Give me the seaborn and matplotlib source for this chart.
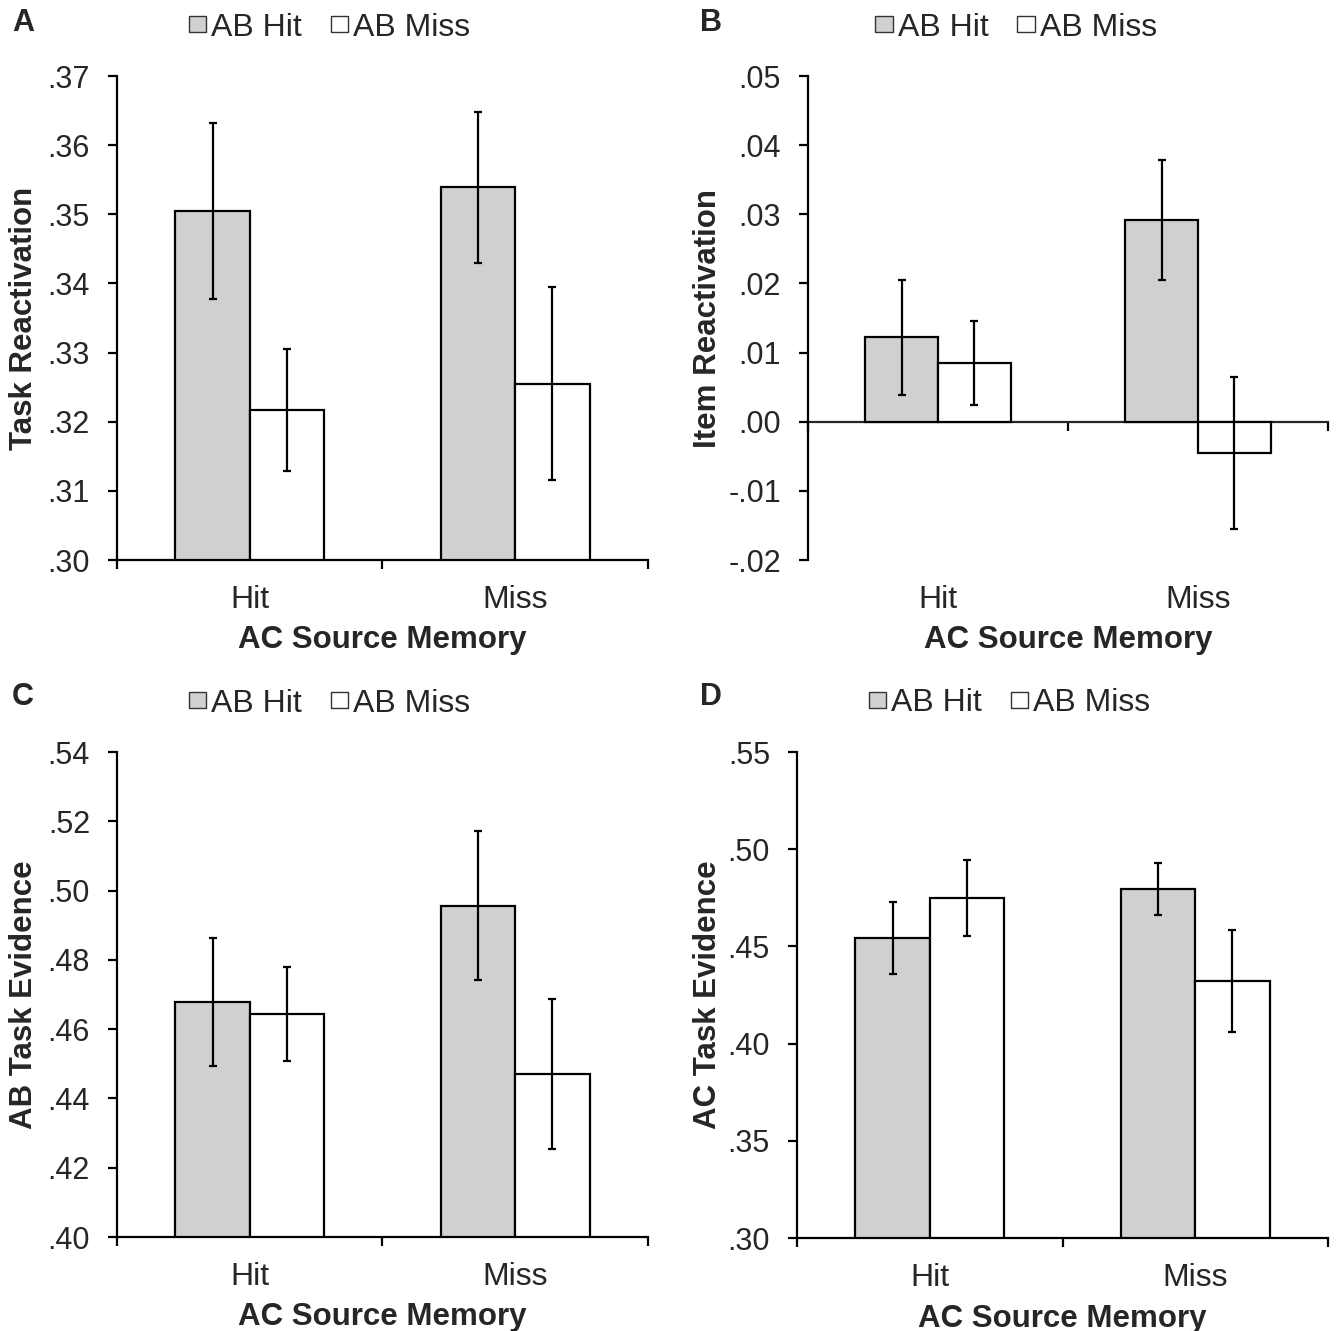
import numpy as np
import pandas as pd
import matplotlib.pyplot as plt
import seaborn as sns

# categories
memory = ['Hit', 'Miss']
ab_levels = ['AB Hit', 'AB Miss']

# panel A - task reactivation
task_ab_hit = [0.3505, 0.3539]
task_ab_miss = [0.3217, 0.3255]
task_err_hit = [0.0127, 0.0109]
task_err_miss = [0.0088, 0.0140]

# panel B - item reactivation
item_ab_hit = [0.0122, 0.0292]
item_ab_miss = [0.0085, -0.0045]
item_err_hit = [0.0083, 0.0087]
item_err_miss = [0.0061, 0.0110]

# panel C - AB task evidence
abev_ab_hit = [0.4678, 0.4956]
abev_ab_miss = [0.4644, 0.4470]
abev_err_hit = [0.0185, 0.0215]
abev_err_miss = [0.0135, 0.0217]

# panel D - AC task evidence
acev_ab_hit = [0.4543, 0.4795]
acev_ab_miss = [0.4749, 0.4322]
acev_err_hit = [0.0183, 0.0134]
acev_err_miss = [0.0195, 0.0260]

sns.set_style('ticks')
plt.rcParams['font.family'] = ['Liberation Sans', 'DejaVu Sans']

fig = plt.figure(figsize=(13.38, 13.31), dpi=100)

panels = [
    dict(letter='A', ylabel='Task Reactivation', hit=task_ab_hit, miss=task_ab_miss,
         eh=task_err_hit, em=task_err_miss, ylim=(0.30, 0.37), step=0.01,
         rect=[117, 76, 648, 560], letter_xy=(23, 23), ylab_x=39),
    dict(letter='B', ylabel='Item Reactivation', hit=item_ab_hit, miss=item_ab_miss,
         eh=item_err_hit, em=item_err_miss, ylim=(-0.02, 0.05), step=0.01,
         rect=[808, 76, 1328, 560], letter_xy=(711, 23), ylab_x=723),
    dict(letter='C', ylabel='AB Task Evidence', hit=abev_ab_hit, miss=abev_ab_miss,
         eh=abev_err_hit, em=abev_err_miss, ylim=(0.40, 0.54), step=0.02,
         rect=[117, 752, 648, 1237], letter_xy=(23, 697), ylab_x=39),
    dict(letter='D', ylabel='AC Task Evidence', hit=acev_ab_hit, miss=acev_ab_miss,
         eh=acev_err_hit, em=acev_err_miss, ylim=(0.30, 0.55), step=0.05,
         rect=[797, 752, 1328, 1238], letter_xy=(711, 697), ylab_x=723),
]

W, H = 1338, 1331

for p in panels:
    x0, y0, x1, y1 = p['rect']
    ax = fig.add_axes([x0 / W, 1 - y1 / H, (x1 - x0) / W, (y1 - y0) / H])

    df = pd.DataFrame({
        'memory': memory * 2,
        'ab': [ab_levels[0]] * 2 + [ab_levels[1]] * 2,
        'value': list(p['hit']) + list(p['miss']),
        'err': list(p['eh']) + list(p['em']),
    })

    sns.barplot(data=df, x='memory', y='value', hue='ab', hue_order=ab_levels,
                palette={'AB Hit': '#d0d0d0', 'AB Miss': 'white'},
                edgecolor='black', linewidth=1.6, width=0.56, gap=0,
                errorbar=None, ax=ax, zorder=2)

    # error bars at each bar's centre
    for cont, lev in zip(ax.containers, ab_levels):
        sub = df[df['ab'] == lev]
        xs = [b.get_x() + b.get_width() / 2 for b in cont]
        ax.errorbar(xs, sub['value'].values, yerr=sub['err'].values, fmt='none',
                    ecolor='black', elinewidth=1.6, capsize=3, capthick=1.6, zorder=3)

    lo, hi = p['ylim']
    ticks = np.round(np.arange(lo, hi + p['step'] / 2, p['step']), 3)
    ax.set_ylim(lo, hi)
    ax.set_yticks(ticks)
    ax.set_yticklabels([f'{t:.2f}'.replace('0.', '.', 1) for t in ticks], fontsize=22)
    ax.set_xlim(-0.5, 1.5)
    ax.set_xticks([0, 1])
    ax.set_xticklabels(memory, fontsize=23)
    ax.set_xticks([-0.5, 0.5, 1.5], minor=True)

    for s in ['top', 'right']:
        ax.spines[s].set_visible(False)
    for s in ['left', 'bottom']:
        ax.spines[s].set_linewidth(1.6)
        ax.spines[s].set_color('black')
    ax.tick_params(axis='y', length=6.5, width=1.6, pad=13, color='black')
    ax.tick_params(axis='x', which='major', length=0, pad=18)
    ax.tick_params(axis='x', which='minor', length=6.5, width=1.6, color='black',
                   direction='out')

    if lo < 0:
        # zero line with category ticks, labels stay at bottom
        ax.spines['bottom'].set_visible(False)
        ax.tick_params(axis='x', which='minor', length=0)
        sec = ax.secondary_xaxis((0 - lo) / (hi - lo))
        sec.set_xticks([-0.5, 0.5, 1.5])
        sec.set_xticklabels([])
        sec.spines['bottom'].set_linewidth(1.6)
        sec.tick_params(length=6.5, width=1.6, color='black')

    ax.set_xlabel('AC Source Memory', fontsize=22.5, fontweight='bold')
    ax.set_ylabel(p['ylabel'], fontsize=22.5, fontweight='bold')
    ax.xaxis.set_label_coords(0.5, -0.135)
    ax.yaxis.set_label_coords(-(x0 - p['ylab_x']) / (x1 - x0), 0.5)

    handles, labels = ax.get_legend_handles_labels()
    for h in handles:
        h.set_linewidth(1.0)
        h.set_edgecolor('#333333')
    ax.legend(handles, labels, loc='center', bbox_to_anchor=(0.40, 1.10), ncol=2,
              frameon=False, handlelength=0.55, handleheight=0.42,
              handletextpad=0.15, columnspacing=0.9,
              prop={'size': 23})

    lx, ly = p['letter_xy']
    fig.text(lx / W, 1 - ly / H, p['letter'], fontsize=22, fontweight='bold',
             ha='center', va='center')

fig.savefig('out.png', dpi=100, facecolor='white')
